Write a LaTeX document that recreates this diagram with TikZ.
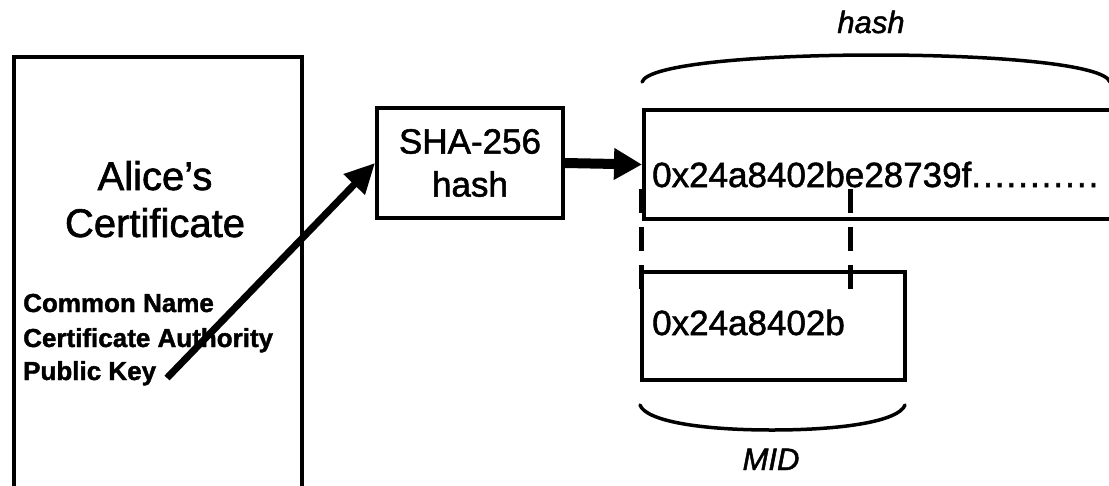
\documentclass[tikz,border=0pt]{standalone}
\usepackage{fontspec}
\setmainfont{Liberation Sans}[FakeBold=1.5]
\usetikzlibrary{arrows.meta}
% spaced trailing dot
\newcommand\spdot{.\kern2pt}
\tikzset{
  box/.style={draw, line width=4pt, inner sep=0pt},
  txt/.style={inner sep=0pt},
  titlefont/.style={font=\fontsize{40}{47}\selectfont},
  fieldfont/.style={font=\fontsize{26}{34}\selectfont\bfseries},
  valfont/.style={font=\fontsize{35}{43}\selectfont},
  bracefont/.style={font=\fontsize{31}{36}\selectfont\itshape},
  thinarrow/.style={line width=7pt, -{Triangle[length=30pt,width=28pt]}},
  thickarrow/.style={line width=10pt, -{Triangle[length=28pt,width=30pt]}},
  cut/.style={line width=5pt, dash pattern=on 24pt off 14pt},
  bracket/.style={line width=3.5pt, line cap=round}
}
\begin{document}
\begin{tikzpicture}[x=1pt,y=-1pt]
\useasboundingbox (0,0) rectangle (1109,485);
\clip (0,0) rectangle (1109,485);

% certificate card (runs past the lower edge)
\node[box, minimum width=288pt, minimum height=470pt, anchor=north west] (cert) at (12,55) {};
\node[txt, titlefont, anchor=base] (title1) at (155,190) {Alice’s};
\node[txt, titlefont, anchor=base] (title2) at (155,237) {Certificate};
\node[txt, fieldfont, anchor=base west] (cn) at (23,312) {Common Name};
\node[txt, fieldfont, anchor=base west] (ca) at (23,347) {Certificate Authority};
\node[txt, fieldfont, anchor=base west] (pk) at (23,380) {Public Key};
\coordinate (keytail) at (167,378);

% hash function
\node[box, valfont, align=center, minimum width=186pt, minimum height=110pt] (sha) at (470,163) {SHA-256\\hash};

% full digest (runs past the right edge)
\node[box, minimum width=490pt, minimum height=109pt, anchor=north west] (hashbox) at (642,108) {};
\node[txt, valfont, anchor=base west] (hashval) at (652,187) {0x24a8402be28739f\spdot\spdot\spdot\spdot\spdot\spdot\spdot\spdot\spdot\spdot.};

% truncated digest
\node[box, minimum width=263pt, minimum height=108pt, anchor=north west] (mid) at (640,270) {};
\node[txt, valfont, anchor=base west] (midval) at (652,335) {0x24a8402b};

% connectors
\draw[thinarrow] (keytail) -- (sha.west);
\draw[thickarrow] (sha.east) -- (hashbox.west);

% cut marks between the two digests
\coordinate (cutLtop) at (641,189);
\coordinate (cutLbot) at (641,290);
\coordinate (cutRtop) at (850,189);
\coordinate (cutRbot) at (850,290);
\draw[cut] (cutLtop) -- (cutLbot);
\draw[cut] (cutRtop) -- (cutRbot);

% brackets with labels
\draw[bracket] (642,82) .. controls (648,64) and (760,55) .. (876,55)
               .. controls (992,55) and (1104,64) .. (1110,82);
\node[txt, bracefont, anchor=base] (hashlbl) at (871,33) {hash};
\draw[bracket] (640,405) .. controls (646,421) and (700,430) .. (772,430)
               .. controls (844,430) and (899,421) .. (905,405);
\node[txt, bracefont, anchor=base] (midlbl) at (771,470) {MID};
\end{tikzpicture}
\end{document}
